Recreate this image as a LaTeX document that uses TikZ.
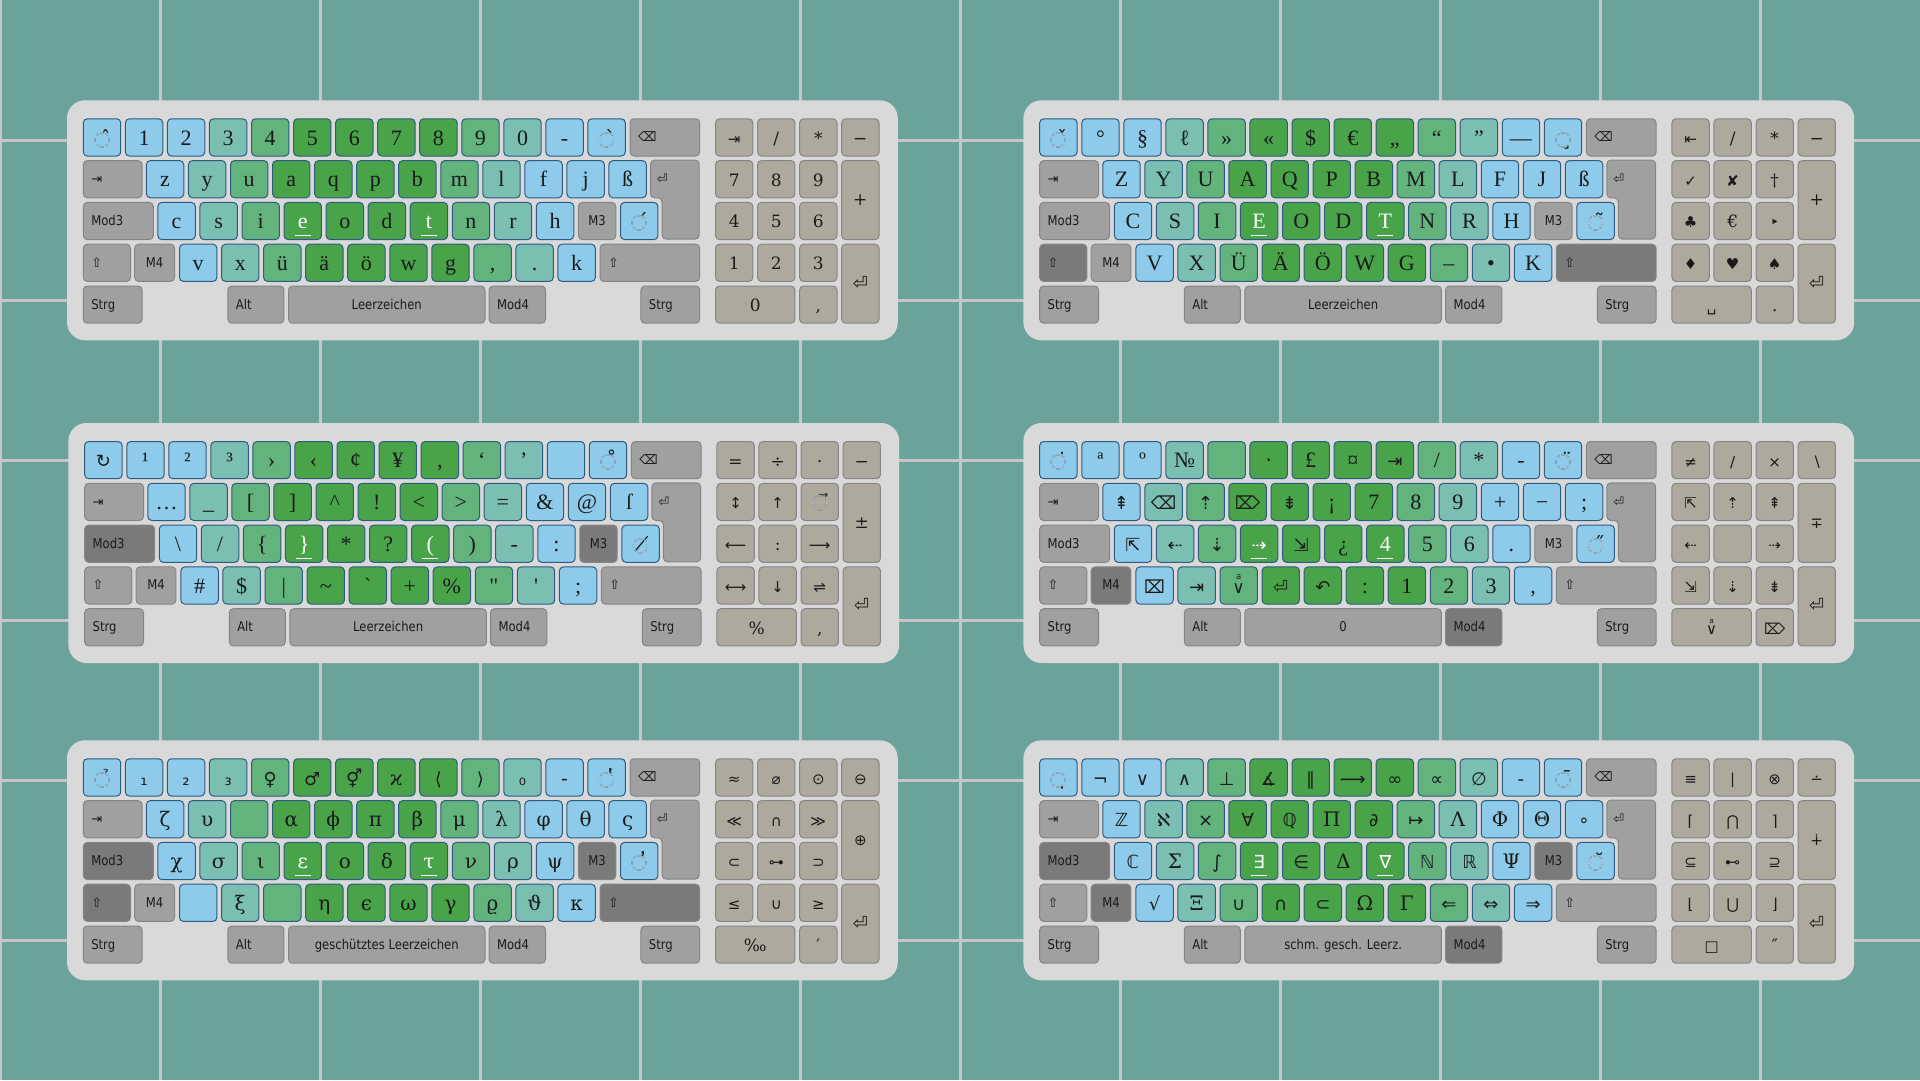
\documentclass[tikz,border=0pt]{standalone}
\usepackage{fontspec}
\newfontfamily\lfam{Liberation Serif}
\newfontfamily\gfam{DejaVu Serif}
\newfontfamily\sfam{DejaVu Sans}
\newfontfamily\mfam[FakeStretch=0.86]{DejaVu Sans}
\newcommand\lf{\lfam\fontsize{22}{24}\selectfont}
\newcommand\gf{\gfam\fontsize{20}{22}\selectfont}
\newcommand\syf{\sfam\fontsize{18}{20}\selectfont}
\newcommand\G[1]{{\gf#1}}
\newcommand\Sy[1]{{\syf#1}}
\newcommand\Sn[1]{{\sfam\fontsize{15}{18}\selectfont#1}}
\newcommand\Ss[1]{{\sfam\fontsize{13}{16}\selectfont#1}}
\newcommand\mf{\mfam\fontsize{13.5}{16}\selectfont}
\newcommand\nf{\gfam\fontsize{17}{20}\selectfont}
\definecolor{bgc}{HTML}{6BA29B}
\definecolor{gridc}{HTML}{C6C6C6}
\definecolor{panelc}{HTML}{D9D9D9}
\definecolor{kB}{HTML}{8ECBEA}
\definecolor{kT}{HTML}{7BBFB2}
\definecolor{kM}{HTML}{62B37C}
\definecolor{kD}{HTML}{49A348}
\definecolor{kG}{HTML}{A0A0A0}
\definecolor{kDk}{HTML}{7A7A7A}
\definecolor{kN}{HTML}{ADA99D}
\definecolor{kline}{HTML}{2D5C82}
\definecolor{mline}{HTML}{858585}
\definecolor{ktext}{HTML}{1A1A1A}
\definecolor{dkc}{HTML}{B9CCD9}
\newcommand\dk[1]{{\sfam\fontsize{20}{22}\selectfont\makebox[0pt][l]{◌#1}\textcolor{dkc}{◌}}}
\newcommand\hl[1]{\makebox[0pt]{\textcolor{white}{#1}}\makebox[0pt]{\textcolor{white}{\rule[-7.5pt]{16pt}{1.4pt}}}}
% insertion symbol (no installed family has U+2380): small a above a down-pointing chevron
\newcommand\insym[1]{\makebox[0pt]{\raisebox{0.62em}{\sfam\fontsize{0.5\dimexpr#1pt\relax}{1pt}\selectfont a}}\makebox[0pt]{\sfam\fontsize{#1}{#1}\selectfont ∨}\rule{0pt}{1pt}}
\newcommand\colA[1]{\ifcase#1 kB\or kB\or kB\or kT\or kM\or kD\or kD\or kD\or kD\or kM\or kT\or kB\else kB\fi}
\newcommand\colP[1]{\ifcase#1 kB\or kT\or kM\or kD\or kD\or kD\or kD\or kM\or kT\or kB\else kB\fi}
\newcommand\npx[1]{\ifcase#1 632.2\or 674.25\or 716.3\or 758.35\or 632.2\or 674.25\or 716.3\or 758.35\or 632.2\or 674.25\or 716.3\or 632.2\or 674.25\or 716.3\or 632.2\or 716.3\fi}
\newcommand\npy[1]{\ifcase#1 0\or 0\or 0\or 0\or 41.8\or 41.8\or 41.8\or 41.8\or 83.6\or 83.6\or 83.6\or 125.4\or 125.4\or 125.4\or 167.2\or 167.2\fi}
\newcommand\rowA[1]{\foreach \t [count=\i from 0] in {#1}{\edef\cc{\colA{\i}}\node[key,fill=\cc] (ra\i) at ({\i*42.05},0) {\t};}}
\newcommand\rowB[1]{\foreach \t [count=\i from 0] in {#1}{\edef\cc{\colP{\i}}\node[key,fill=\cc] (rb\i) at ({63.1+\i*42.05},41.8) {\t};}}
\newcommand\rowC[2]{\foreach \t [count=\i from 0] in {#1}{\edef\cc{\colP{\i}}\ifnum\i=3 \def\lab{\hl{\t}}\else\ifnum\i=6 \def\lab{\hl{\t}}\else\def\lab{\t}\fi\fi\node[key,fill=\cc] (rc\i) at ({74.6+\i*42.05},83.6) {\lab};}\node[key,fill=kB] (acc) at (537.2,83.6) {#2};}
\newcommand\rowD[1]{\foreach \t [count=\i from 0] in {#1}{\edef\cc{\colP{\i}}\node[key,fill=\cc] (rd\i) at ({96.2+\i*42.05},125.4) {\t};}}
\newcommand\numpad[1]{\foreach \t [count=\i from 0] in {#1}{\edef\nx{\npx{\i}}\edef\ny{\npy{\i}}\node[npk=\i] (np\i) at (\nx,\ny) {\t};}\node[nptall] (npent) at (758.35,125.4) {{\sfam\fontsize{18}{20}\selectfont ⏎}};}
\newcommand\kbframe[1]{%
 \fill[panelc,rounded corners=18pt] (-15.8,-18) rectangle (815,222);
 \node[modl=53.7pt] (bsp) at (546.7,0) {\Ss{⌫}};
 \node[modl=42.8pt] (tab) at (0,41.8) {\Ss{⇥}};
 \draw[modshape] (567.7,41.8) -- (616.4,41.8) -- (616.4,120.8) -- (579.2,120.8) -- (579.2,79.5) -- (567.7,79.5) -- cycle;
 \node[anchor=base west,inner sep=0pt,text=ktext] (ret) at (573.9,65) {\Ss{⏎}};
 \node[modl=54pt,m3S] (mod3) at (0,83.6) {Mod3};
 \node[modc=37.4pt,m3S] (m3) at (495.1,83.6) {M3};
 \node[modl=31.2pt,shS] (lsh) at (0,125.4) {\Ss{⇧}};
 \node[modc=39.8pt,m4S] (m4) at (51.4,125.4) {M4};
 \node[modl=83.7pt,shS] (rsh) at (516.7,125.4) {\Ss{⇧}};
 \node[modl=42.8pt] (lctrl) at (0,167.2) {Strg};
 \node[modl=40pt] (alt) at (144.6,167.2) {Alt};
 \node[modc=196.5pt] (space) at (205.2,167.2) {#1};
 \node[modl=40.4pt,m4S] (mod4) at (405.8,167.2) {Mod4};
 \node[modl=42.8pt] (rctrl) at (557.6,167.2) {Strg};
}
\begin{document}
\begin{tikzpicture}[x=1pt,y=-1pt,
  key/.style={draw=kline,line width=1pt,rounded corners=4pt,inner sep=0pt,minimum width=37.4pt,text height=26.3pt,text depth=10.9pt,anchor=north west,font=\lf,text=ktext},
  modbase/.style={draw=mline,line width=1pt,fill=kG,rounded corners=4pt,inner ysep=0pt,text height=23pt,text depth=14.2pt,anchor=north west,font=\mf,text=ktext},
  modl/.style={modbase,inner xsep=8pt,align=left,text width=#1},
  modc/.style={modbase,inner xsep=0pt,minimum width=#1,align=center},
  modshape/.style={draw=mline,line width=1pt,fill=kG,rounded corners=4pt},
  npkey/.style={draw=mline,line width=1pt,fill=kN,rounded corners=4pt,inner sep=0pt,minimum width=37.4pt,text height=25.5pt,text depth=11.7pt,anchor=north west,font=\nf,text=ktext},
  nptall/.style={npkey,text height=45pt,text depth=34pt},
  npwide/.style={npkey,minimum width=79.45pt},
  npk/.code={\ifnum#1=7 \pgfkeysalso{nptall}\else\ifnum#1=14 \pgfkeysalso{npwide}\else\pgfkeysalso{npkey}\fi\fi},
  shS/.style={}, m3S/.style={}, m4S/.style={}, dark/.style={fill=kDk}]
\useasboundingbox (0,0) rectangle (1920,1080);
\fill[bgc] (0,0) rectangle (1920,1080);
\foreach \x in {0,160,...,1760} \draw[gridc,line width=3pt] (\x,0) -- (\x,1080);
\foreach \y in {140,300,...,940} \draw[gridc,line width=3pt] (0,\y) -- (1920,\y);

\begin{scope}[shift={(82.8,118.3)},name prefix=k1-]
\kbframe{Leerzeichen}
\rowA{\dk{^^^^0302},1,2,3,4,5,6,7,8,9,0,-,\dk{^^^^0300}}
\rowB{z,y,u,a,q,p,b,m,l,f,j,ß}
\rowC{c,s,i,e,o,d,t,n,r,h}{\dk{^^^^0301}}
\rowD{v,x,ü,ä,ö,w,g,{,},.,k}
\numpad{\Sn{⇥},/,*,−,7,8,9,+,4,5,6,1,2,3,0,{,}}
\end{scope}

\begin{scope}[shift={(1039.2,118.3)},name prefix=k2-,shS/.style={dark}]
\kbframe{Leerzeichen}
\rowA{\dk{^^^^030c},°,§,ℓ,»,«,\$,€,„,“,”,—,\dk{^^^^0327}}
\rowB{Z,Y,U,A,Q,P,B,M,L,F,J,ß}
\rowC{C,S,I,E,O,D,T,N,R,H}{\dk{^^^^0303}}
\rowD{V,X,Ü,Ä,Ö,W,G,–,•,K}
\numpad{\Sn{⇤},/,*,−,\Sn{✓},\Sn{✘},†,+,\Sn{♣},€,\Sn{‣},\Sn{♦},\Sn{♥},\Sn{♠},\Sn{␣},.}
\end{scope}

\begin{scope}[shift={(84.2,441)},name prefix=k3-,m3S/.style={dark}]
\kbframe{Leerzeichen}
\rowA{\Sy{↻},¹,²,³,›,‹,¢,¥,‚,‘,’,{},\dk{^^^^030a}}
\rowB{…,\_,{[},{]},\textasciicircum,!,<,>,=,\&,@,ſ}
\rowC{\textbackslash,/,\{,\},*,?,{(},{)},-,:}{\dk{^^^^0338}}
\rowD{\#,\$,|,\textasciitilde,\symbol{96},+,\%,",\symbol{39},;}
\numpad{=,÷,·,−,\Sn{↕},\Sn{↑},\dk{^^^^20d7},±,\Sn{⟵},:,\Sn{⟶},\Sn{⟷},\Sn{↓},\Sn{⇌},\%,{,}}
\end{scope}

\begin{scope}[shift={(1039.2,441)},name prefix=k4-,m4S/.style={dark}]
\kbframe{0}
\rowA{\dk{^^^^0307},ª,º,№,{},·,£,¤,\Sy{⇥},/,*,-,\dk{^^^^0308}}
\rowB{\Sy{⇞},\Sy{⌫},\Sy{⇡},\Sy{⌦},\Sy{⇟},¡,7,8,9,+,−,;}
\rowC{\Sy{⇱},\Sy{⇠},\Sy{⇣},\Sy{⇢},\Sy{⇲},¿,4,5,6,.}{\dk{^^^^030b}}
\rowD{\Sy{⌧},\Sy{⇥},\insym{17},\Sy{⏎},\Sy{↶},:,1,2,3,{,}}
\numpad{\Sn{≠},\Sn{∕},\Sn{×},\Sn{∖},\Sn{⇱},\Sn{⇡},\Sn{⇞},\Sn{∓},\Sn{⇠},{},\Sn{⇢},\Sn{⇲},\Sn{⇣},\Sn{⇟},\insym{15},\Sn{⌦}}
\end{scope}

\begin{scope}[shift={(82.8,758.3)},name prefix=k5-,shS/.style={dark},m3S/.style={dark},key/.append style={font=\gf}]
\kbframe{geschütztes Leerzeichen}
\rowA{\dk{^^^^0309},\Sy{₁},\Sy{₂},\Sy{₃},\Sy{♀},\Sy{♂},\Sy{⚥},ϰ,\Sy{⟨},\Sy{⟩},\Sy{₀},-,\dk{^^^^0314}}
\rowB{ζ,υ,{},α,ϕ,π,β,μ,λ,φ,θ,ς}
\rowC{χ,σ,ι,ε,ο,δ,τ,ν,ρ,ψ}{\dk{^^^^0313}}
\rowD{{},ξ,{},η,ϵ,ω,γ,ϱ,ϑ,κ}
\numpad{\Sn{≈},\Sn{⌀},\Sn{⊙},\Sn{⊖},\Sn{≪},\Sn{∩},\Sn{≫},\Sn{⊕},\Sn{⊂},\Sn{⊶},\Sn{⊃},\Sn{≤},\Sn{∪},\Sn{≥},‰,′}
\end{scope}

\begin{scope}[shift={(1039.2,758.3)},name prefix=k6-,m3S/.style={dark},m4S/.style={dark},key/.append style={font=\syf}]
\kbframe{schm. gesch. Leerz.}
\rowA{\dk{^^^^0323},¬,∨,∧,⊥,∡,∥,⟶,∞,∝,∅,-,\dk{^^^^0304}}
\rowB{ℤ,ℵ,×,∀,ℚ,\G{Π},∂,↦,\G{Λ},\G{Φ},\G{Θ},∘}
\rowC{ℂ,\G{Σ},∫,∃,∈,\G{Δ},∇,ℕ,ℝ,\G{Ψ}}{\dk{^^^^0306}}
\rowD{√,\G{Ξ},∪,∩,⊂,\G{Ω},\G{Γ},⇐,⇔,⇒}
\numpad{\Sn{≡},\Sn{∣},\Sn{⊗},\Sn{∸},\Sn{⌈},\Sn{⋂},\Sn{⌉},\Sn{∔},\Sn{⊆},\Sn{⊷},\Sn{⊇},\Sn{⌊},\Sn{⋃},\Sn{⌋},\Sn{□},″}
\end{scope}
\end{tikzpicture}
\end{document}
